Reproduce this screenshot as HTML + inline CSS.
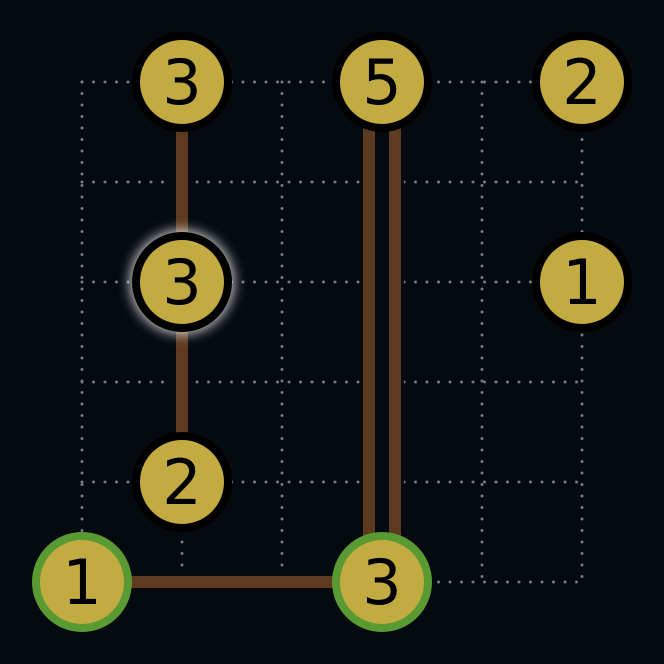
<!DOCTYPE html>
<html><head><meta charset="utf-8"><style>
html,body{margin:0;padding:0;background:#040a10;}
svg{display:block;}
text{font-family:"DejaVu Sans","Liberation Sans",sans-serif;}
</style></head>
<body>
<svg id="board" width="664" height="664" viewBox="0 0 664 664" xmlns="http://www.w3.org/2000/svg">
<defs>
<filter id="glow" x="-50%" y="-50%" width="200%" height="200%">
<feGaussianBlur stdDeviation="6"/>
</filter>
</defs>
<rect width="664" height="664" fill="#040a10"/>
<g id="grid"></g>
<g id="bridges"></g>
<g id="nodes"></g>
</svg>
<script>
const gridCols = [0,1,2,3,4,5];
const gridRows = [0,1,2,3,4,5];
const nodeCols = [1,3,5,1,5,1,0,3];
const nodeRows = [0,0,0,2,2,4,5,5];
const nodeValues = [3,5,2,3,1,2,1,3];
const nodeStates = ['normal','normal','normal','selected','normal','normal','done','done'];
const bridgeFrom = [0,3,1,6];
const bridgeTo = [3,5,7,7];
const bridgeCounts = [1,1,2,1];

const NS='http://www.w3.org/2000/svg';
const px = c => 82 + c*100;
const py = r => 82 + r*100;
function mk(tag, attrs, parent){const e=document.createElementNS(NS,tag);for(const k in attrs)e.setAttribute(k,attrs[k]);parent.appendChild(e);return e;}

const grid=document.getElementById('grid');
const minC=Math.min(...gridCols), maxC=Math.max(...gridCols), minR=Math.min(...gridRows), maxR=Math.max(...gridRows);
gridRows.forEach(r=>{
  const l=mk('line',{x1:px(minC),y1:py(r),x2:px(maxC),y2:py(r),stroke:'#737c84','stroke-width':3,'stroke-dasharray':'0 11.5','stroke-linecap':'round'},grid);
  
  
});
gridCols.forEach(c=>{
  const l=mk('line',{x1:px(c),y1:py(minR),x2:px(c),y2:py(maxR),stroke:'#737c84','stroke-width':3,'stroke-dasharray':'0 11.5','stroke-linecap':'round'},grid);
  
  
});

const bg=document.getElementById('bridges');
bridgeFrom.forEach((f,i)=>{
  const t=bridgeTo[i];
  const x1=px(nodeCols[f]),y1=py(nodeRows[f]),x2=px(nodeCols[t]),y2=py(nodeRows[t]);
  const vertical = x1===x2;
  const cw = bridgeCounts[i]===2 ? 44 : 26;
  const c=mk('line',{x1,y1,x2,y2,stroke:'#040a10','stroke-width':cw},bg);
  
  
  const offs = bridgeCounts[i]===2 ? [-13,13] : [0];
  offs.forEach(o=>{
    const l=mk('line',{x1:vertical?x1+o:x1,y1:vertical?y1:y1+o,x2:vertical?x2+o:x2,y2:vertical?y2:y2+o,stroke:'#5e3a20','stroke-width':12},bg);
    
    
  });
});

const ng=document.getElementById('nodes');
nodeValues.forEach((v,i)=>{
  const cx=px(nodeCols[i]), cy=py(nodeRows[i]);
  const g=mk('g',{},ng);
  
  
  if(nodeStates[i]==='selected'){
    mk('circle',{cx,cy,r:52,fill:'#ffffff',opacity:0.8,filter:'url(#glow)'},g);
  }
  const border = nodeStates[i]==='done' ? '#5a9a32' : '#000000';
  mk('circle',{cx,cy,r:46,fill:'#c2ac42',stroke:border,'stroke-width':8},g);
  const tx=mk('text',{x:cx,y:cy+22,'text-anchor':'middle','font-size':62,fill:'#000'},g);
  tx.textContent=v;
  
  
});
</script>
</body></html>
